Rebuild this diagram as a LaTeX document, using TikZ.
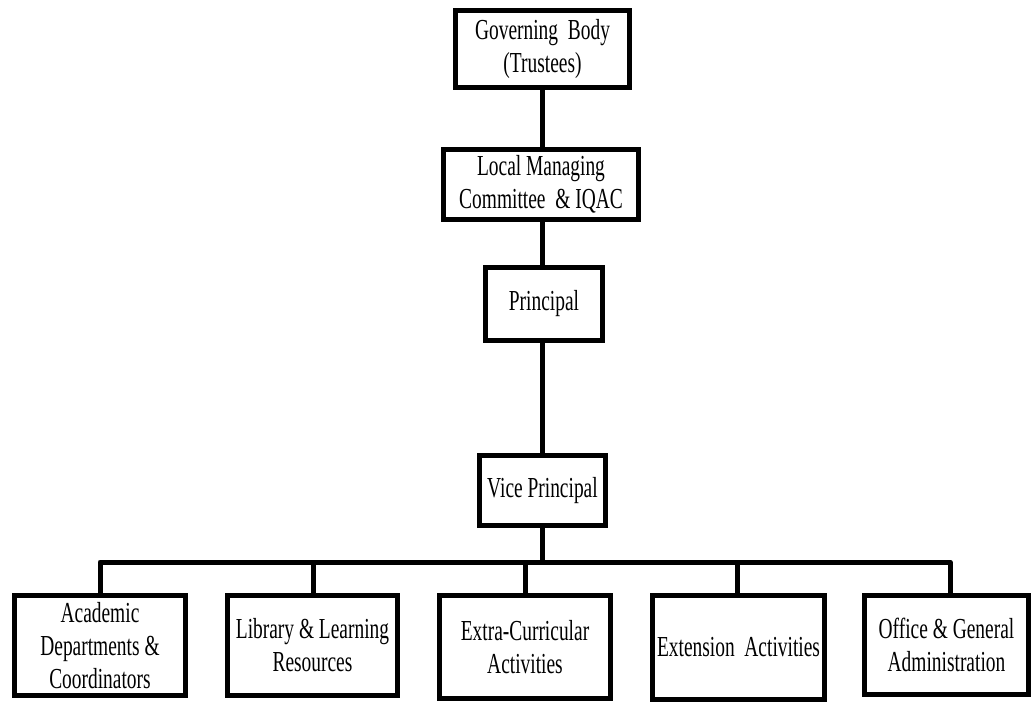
\documentclass[tikz,border=0pt]{standalone}
\usepackage{fontspec}
\setmainfont{Liberation Serif}[FakeStretch=0.67]
\begin{document}
\begin{tikzpicture}[x=1pt,y=-1pt,
  box/.style={draw, line width=5pt, inner sep=0pt, align=center, fill=white,
              font=\fontsize{29}{33}\selectfont},
  conn/.style={line width=5pt, line join=round}]
\useasboundingbox (0,0) rectangle (1033,703);
\node[box, minimum width=174pt, minimum height=77pt] (gb) at (542.5,49) {Governing\ \ Body\\(Trustees)};
\node[box, minimum width=195pt, minimum height=70pt] (lmc) at (541,184.5) {Local Managing\\Committee \ \& IQAC};
\node[box, minimum width=117pt, minimum height=73pt] (pr) at (544,304) {Principal};
\node[box, minimum width=126pt, minimum height=70pt] (vp) at (542.5,490.5) {Vice Principal};
\node[box, minimum width=171pt, minimum height=100pt] (a) at (100,645.5) {Academic\\Departments \&\\Coordinators};
\node[box, minimum width=170pt, minimum height=100pt] (b) at (312.5,645.5) {Library \& Learning\\Resources};
\node[box, minimum width=171pt, minimum height=103pt] (c) at (525,647) {Extra-Curricular\\Activities};
\node[box, minimum width=172pt, minimum height=104pt] (d) at (738.5,647.5) {Extension\ \ Activities};
\node[box, minimum width=164pt, minimum height=99pt] (e) at (946.5,645) {Office \& General\\Administration};
\coordinate (bar) at (542,562);
\coordinate (ta) at (100,593);
\coordinate (tb) at (313,593);
\coordinate (tc) at (525,593);
\coordinate (td) at (737,593);
\coordinate (te) at (950,593);
\draw[conn] (gb.south -| bar) -- (lmc.north -| bar);
\draw[conn] (lmc.south -| bar) -- (pr.north -| bar);
\draw[conn] (pr.south -| bar) -- (vp.north -| bar);
\draw[conn] (vp.south -| bar) -- (bar);
\draw[conn] (ta) -- (ta |- bar) -- (te |- bar) -- (te);
\draw[conn] (tb |- bar) -- (tb);
\draw[conn] (tc |- bar) -- (tc);
\draw[conn] (td |- bar) -- (td);
\end{tikzpicture}
\end{document}
